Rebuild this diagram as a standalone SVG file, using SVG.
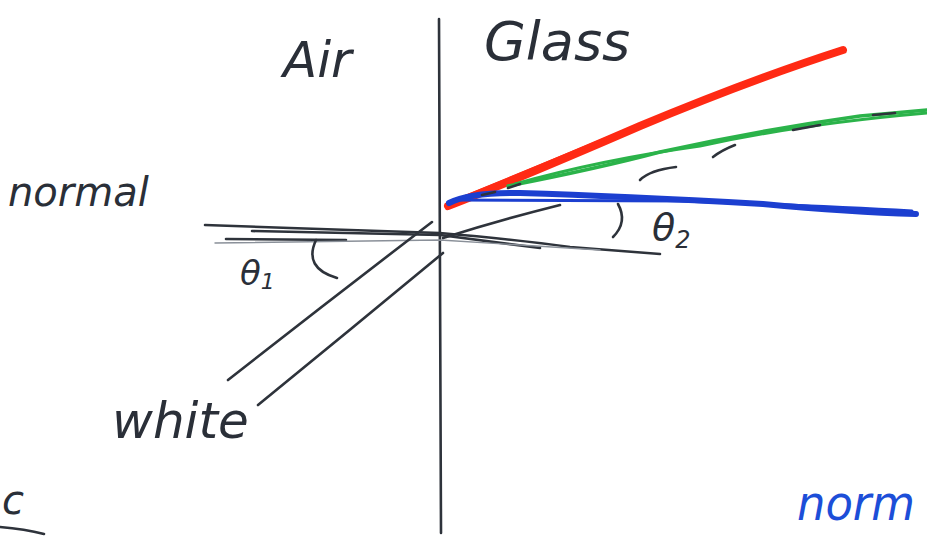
<svg xmlns="http://www.w3.org/2000/svg" width="927" height="537" viewBox="0 0 927 537">
<style>
.ink{fill:none;stroke:#2e333b;stroke-width:2.6;stroke-linecap:round;stroke-linejoin:round}
.thin{fill:none;stroke:#8a9099;stroke-width:1.4;stroke-linecap:round}
.hand{font-family:"DejaVu Sans",sans-serif;font-style:oblique;fill:#2a2f38}
.red{fill:none;stroke:#ff2a14;stroke-linecap:round;stroke-linejoin:round}
.green{fill:none;stroke:#2bb34a;stroke-linecap:round;stroke-linejoin:round}
.blue{fill:none;stroke:#1c3fd0;stroke-linecap:round;stroke-linejoin:round}
</style>
<rect width="927" height="537" fill="#ffffff"/>
<g id="boundary">
<path class="ink" d="M439,19 Q440,270 441,533" stroke="#111" stroke-width="2.8"/>
</g>
<g id="normal-line">
<path class="ink" d="M205,225 L290,228 L440,233 Q520,240 570,247 L660,254"/>
<path class="ink" d="M252,231 L440,235 Q500,243 540,248"/>
<path class="ink" d="M226,239 L346,240"/>
<path class="thin" d="M215,243 L440,240 L600,250"/>
</g>
<g id="incident-rays">
<path class="ink" d="M228,380 Q330,300 432,222"/>
<path class="ink" d="M258,405 Q350,330 443,253"/>
<path class="ink" d="M443,238 Q500,220 560,205"/>
</g>
<g id="refracted-rays">
<path class="red" stroke-width="8" d="M448,206 Q520,178 640,126 Q750,80 843,50"/>
<path class="red" stroke-width="3" d="M452,202 Q560,158 700,100 Q780,70 835,52"/>
<path class="green" stroke-width="3.5" d="M508,186 Q600,168 660,152 Q760,130 860,116 L927,110"/>
<path class="green" stroke-width="3" d="M515,184 Q600,160 700,146 Q800,124 927,113"/>
<path class="blue" stroke-width="6" d="M449,203 Q470,192 520,193 Q620,196 763,204 Q850,212 916,214"/>
<path class="blue" stroke-width="3" d="M455,200 Q560,200 680,201 Q820,206 912,211"/>
</g>
<g id="marks">
<path class="ink" d="M640,180 Q650,170 676,167"/>
<path class="ink" d="M713,157 Q722,150 735,145"/>
<path class="ink" d="M793,130 L820,125"/>
<path class="ink" d="M873,115 L895,113"/>
<path class="ink" d="M508,188 L520,184"/>
<path class="ink" d="M482,195 L495,192"/>
</g>
<g id="angle-theta1">
<path class="ink" d="M316,240 Q303,268 337,278"/>
<text class="hand" x="240" y="285" font-size="34">θ<tspan font-size="22" dy="4">1</tspan></text>
</g>
<g id="angle-theta2">
<path class="ink" d="M618,204 Q628,222 613,237"/>
<text class="hand" x="652" y="240" font-size="38">θ<tspan font-size="24" dy="8">2</tspan></text>
</g>
<g id="labels">
<text class="hand" x="797" y="520" font-size="48" textLength="118" lengthAdjust="spacingAndGlyphs" style="fill:#1c4ed8">norm</text>
<text class="hand" x="283" y="77" font-size="50">Air</text>
<text class="hand" x="484" y="60" font-size="54">Glass</text>
<text class="hand" x="8" y="206" font-size="40">normal</text>
<text class="hand" x="112" y="438" font-size="50">white</text>
<text class="hand" x="2" y="514" font-size="40">c</text>
<path class="ink" d="M0,527 Q25,529 44,534" stroke-width="3"/>
</g>
</svg>
